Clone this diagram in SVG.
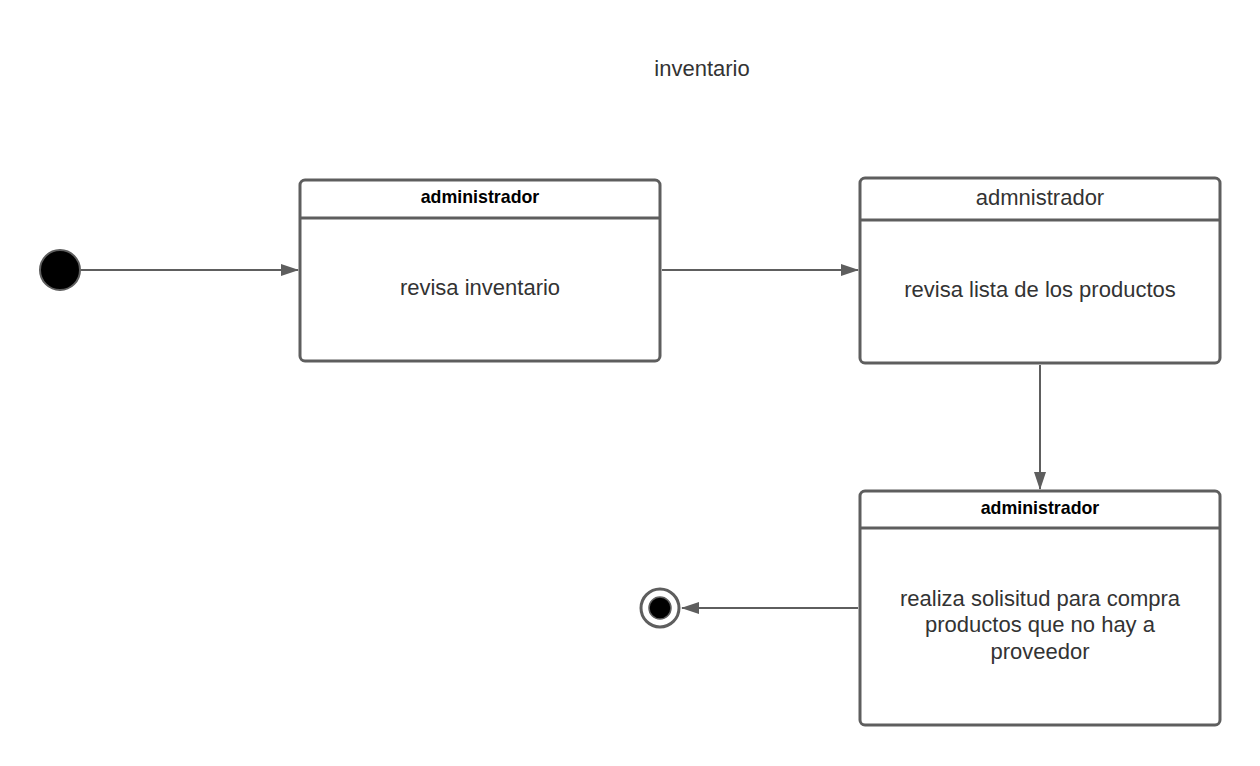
<svg xmlns="http://www.w3.org/2000/svg" width="1260" height="766" viewBox="0 0 1260 766">
<style>
.box{fill:#fff;stroke:#5e5e5e;stroke-width:3}
.sep{stroke:#5e5e5e;stroke-width:3}
.conn{stroke:#5e5e5e;stroke-width:2;fill:none}
.t{font-family:"Liberation Sans",Arial,sans-serif;fill:#333;text-anchor:middle;dominant-baseline:central;font-size:22px}
.h{font-family:"Liberation Sans",Arial,sans-serif;fill:#000;text-anchor:middle;dominant-baseline:central;font-size:17.8px;font-weight:bold}
</style>
<defs>
<marker id="arr" markerWidth="18" markerHeight="12" refX="17" refY="6" orient="auto" markerUnits="userSpaceOnUse">
<path d="M0,0 L18,6 L0,12 Z" fill="#5e5e5e"/>
</marker>
</defs>
<rect width="1260" height="766" fill="#fff"/>
<text class="t" x="702" y="68">inventario</text>
<g id="connectors">
<line class="conn" x1="81" y1="270" x2="298" y2="270" marker-end="url(#arr)"/>
<line class="conn" x1="662" y1="270" x2="858" y2="270" marker-end="url(#arr)"/>
<line class="conn" x1="1040" y1="365" x2="1040" y2="489" marker-end="url(#arr)"/>
<line class="conn" x1="858" y1="608" x2="682" y2="608" marker-end="url(#arr)"/>
</g>
<g id="start">
<circle cx="60" cy="270" r="20" fill="#000" stroke="#5e5e5e" stroke-width="2"/>
</g>
<g id="state1">
<rect class="box" x="300" y="180" width="360" height="181" rx="5"/>
<line class="sep" x1="300" y1="218" x2="660" y2="218"/>
<text class="h" x="480" y="197">administrador</text>
<text class="t" x="480" y="287">revisa inventario</text>
</g>
<g id="state2">
<rect class="box" x="860" y="178" width="360" height="185" rx="5"/>
<line class="sep" x1="860" y1="220" x2="1220" y2="220"/>
<text class="t" x="1040" y="197">admnistrador</text>
<text class="t" x="1040" y="289">revisa lista de los productos</text>
</g>
<g id="state3">
<rect class="box" x="860" y="491" width="360" height="234" rx="5"/>
<line class="sep" x1="860" y1="528" x2="1220" y2="528"/>
<text class="h" x="1040" y="508">administrador</text>
<text class="t" x="1040" y="598">realiza solisitud para compra</text>
<text class="t" x="1040" y="624">productos que no hay a</text>
<text class="t" x="1040" y="651">proveedor</text>
</g>
<g id="end">
<circle cx="660" cy="608" r="19" fill="#fff" stroke="#5e5e5e" stroke-width="3"/>
<circle cx="660" cy="608" r="11" fill="#000" stroke="#5e5e5e" stroke-width="1.5"/>
</g>
</svg>
